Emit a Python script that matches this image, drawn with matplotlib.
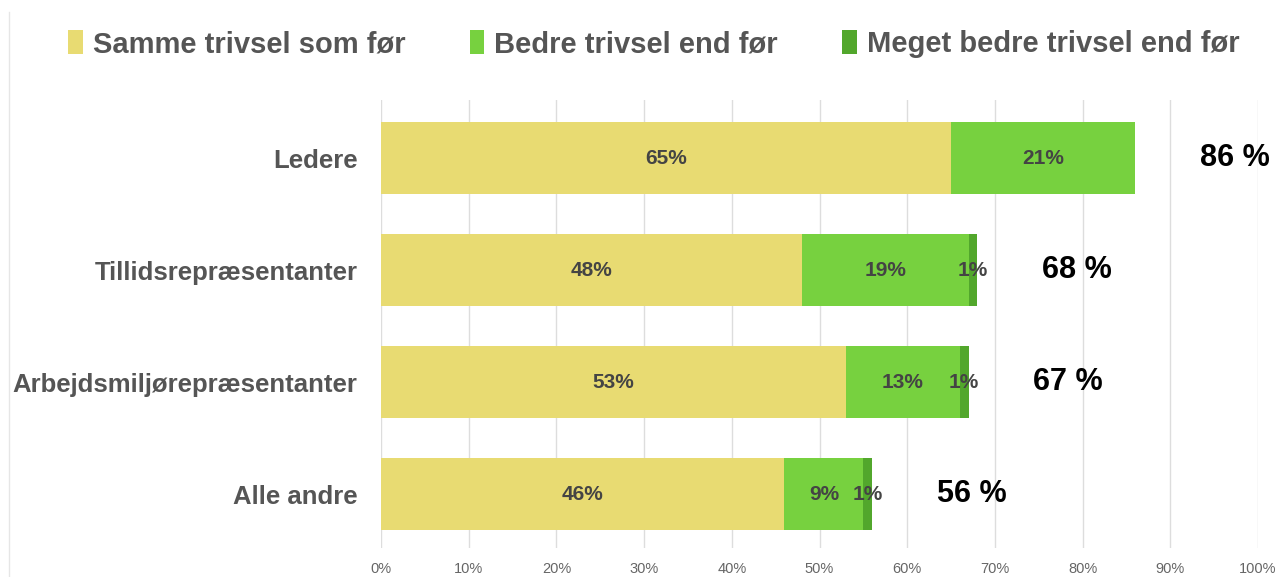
import numpy as np
import matplotlib
matplotlib.use("Agg")
from matplotlib import pyplot as plt
from matplotlib.patches import Patch
from matplotlib.lines import Line2D

plt.rcParams['font.family'] = ['Liberation Sans', 'DejaVu Sans']

categories = ["Ledere", "Tillidsrepræsentanter", "Arbejdsmiljørepræsentanter", "Alle andre"]
series_names = ["Samme trivsel som før", "Bedre trivsel end før", "Meget bedre trivsel end før"]
samme = [65, 48, 53, 46]
bedre = [21, 19, 13, 9]
meget = [0, 1, 1, 1]
totals = [86, 68, 67, 56]
x_ticks = list(range(0, 101, 10))

colors = ["#E8DB72", "#77D13F", "#52A72C"]

fig = plt.figure(figsize=(12.77, 5.77), dpi=100)
ax = fig.add_axes([381 / 1277, 1 - 548 / 577, (1258 - 381) / 1277, 448 / 577])

y = np.arange(len(categories))
left = np.zeros(len(categories))
for vals, col in zip([samme, bedre, meget], colors):
    vals = np.array(vals, dtype=float)
    ax.barh(y, vals, left=left, height=0.645, color=col, zorder=3)
    for yi, l, v in zip(y, left, vals):
        if v > 0:
            ax.text(l + v / 2, yi, f"{int(v)}%", ha="center", va="center",
                    fontsize=15, fontweight="bold", color="#444444", zorder=4)
    left += vals

for yi, t in zip(y, totals):
    ax.text(t + 7.4, yi, f"{t} %", ha="left", va="center",
            fontsize=22, fontweight="bold", color="black")

ax.set_xlim(0, 100)
ax.set_ylim(3.48, -0.52)
ax.set_xticks(x_ticks)
ax.set_xticklabels([f"{v}%" for v in x_ticks], fontsize=10.5, color="#666666")
ax.set_yticks(y)
ax.set_yticklabels(categories, fontsize=18.5, fontweight="bold", color="#555555")
ax.tick_params(axis="y", length=0, pad=17)
ax.tick_params(axis="x", length=0, pad=10)
ax.grid(axis="x", color="#DDDDDD", linewidth=1, zorder=0)
for s in ax.spines.values():
    s.set_visible(False)

# thin line at the left edge
fig.add_artist(Line2D([9 / 1277, 9 / 1277], [0, 1 - 12 / 577], color="#E6E6E6", linewidth=1))

handles = [Patch(facecolor=c, edgecolor="none") for c in colors]
leg = fig.legend(handles, series_names, loc="center", bbox_to_anchor=(0.512, 1 - 44 / 577),
                 ncol=3, frameon=False, handlelength=0.5, handleheight=0.9, handletextpad=0.35,
                 columnspacing=2.2, prop={"size": 21, "weight": "bold"})
for t in leg.get_texts():
    t.set_color("#555555")

fig.savefig("out.png", dpi=100)
